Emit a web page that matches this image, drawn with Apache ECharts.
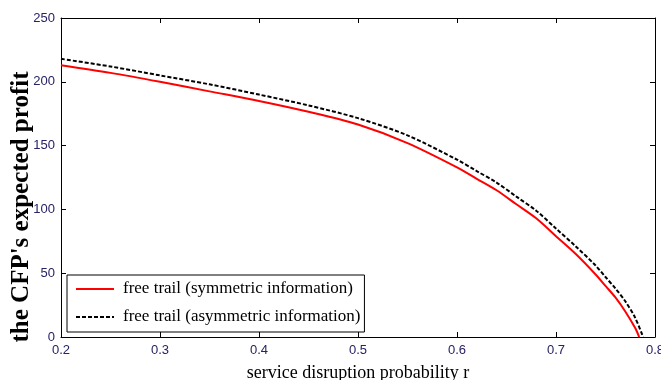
<!DOCTYPE html>
<html>
<head>
<meta charset="utf-8">
<script src="https://cdn.jsdelivr.net/npm/echarts@6/dist/echarts.min.js"></script>
<style>html,body{margin:0;padding:0;background:#fff}#c{width:661px;height:380px}</style>
</head>
<body>
<div id="c"></div>
<script>
var symR = [0.2,0.25,0.3,0.35,0.4,0.45,0.5,0.55,0.6,0.62,0.64,0.66,0.68,0.7,0.72,0.74,0.75,0.76,0.77,0.78,0.784];
var symProfit = [213,207,200,192.5,185,176.5,166.5,152,133,124,115,104,93,79,65,49,40,31,20,7,0];
var asymR = [0.2,0.25,0.3,0.35,0.4,0.45,0.5,0.55,0.6,0.62,0.64,0.66,0.68,0.7,0.72,0.74,0.75,0.76,0.77,0.78,0.788];
var asymProfit = [218,212,205,198,190,181.5,171.5,158,139,130,121,110,99,85,71,56,47,38,28,15,0];
var xTicks = [0.2,0.3,0.4,0.5,0.6,0.7,0.8];
var yTicks = [0,50,100,150,200,250];
var seriesNames = ['free trail (symmetric information)','free trail (asymmetric information)'];
var xName = 'service disruption probability r';
var yName = "the CFP's expected profit";

function pairs(xs, ys){ return xs.map(function(x,i){ return [x, ys[i]]; }); }

var labelColor = '#262266';
var chart = echarts.init(document.getElementById('c'));
var axisCommon = {
  axisLine:{show:true, onZero:false, lineStyle:{color:'#000', width:1}},
  axisTick:{show:true, inside:true, length:5, lineStyle:{color:'#000'}},
  splitLine:{show:false}
};
chart.setOption({
  animation:false,
  backgroundColor:'#fff',
  grid:{left:61, right:6, top:18, bottom:43, containLabel:false, outerBoundsMode:'none'},
  xAxis:[
    Object.assign({type:'value', min:xTicks[0], max:xTicks[xTicks.length-1], interval:0.1, position:'bottom',
      name:xName, nameLocation:'middle', nameGap:27,
      nameTextStyle:{fontFamily:'Liberation Serif', fontSize:18, color:'#000'},
      axisLabel:{color:labelColor, fontFamily:'Liberation Sans', fontSize:13, margin:7,
        formatter:function(v){return v.toFixed(1);}}}, axisCommon),
    Object.assign({type:'value', min:xTicks[0], max:xTicks[xTicks.length-1], interval:0.1, position:'top',
      axisLabel:{show:false}}, axisCommon)
  ],
  yAxis:[
    Object.assign({type:'value', min:yTicks[0], max:yTicks[yTicks.length-1], interval:50, position:'left',
      axisLabel:{color:labelColor, fontFamily:'Liberation Sans', fontSize:13, margin:6}}, axisCommon),
    Object.assign({type:'value', min:yTicks[0], max:yTicks[yTicks.length-1], interval:50, position:'right',
      axisLabel:{show:false}}, axisCommon)
  ],
  legend:{
    show:true,
    orient:'vertical', left:67, top:275,
    backgroundColor:'#fff', borderColor:'#000', borderWidth:1,
    padding:[4,4,5,8], itemGap:8, itemWidth:38, itemHeight:14,
    itemStyle:{opacity:0},
    textStyle:{fontFamily:'Liberation Serif', fontSize:17, lineHeight:20, color:'#000', padding:[0,0,0,4]},
    data:[seriesNames[0], seriesNames[1]]
  },
  graphic:[{
    type:'text', x:22, y:207, rotation:Math.PI/2,
    style:{text:yName, fontFamily:'Liberation Serif', fontWeight:'bold', fontSize:25,
      fill:'#000', textAlign:'center', textVerticalAlign:'middle'}
  }],
  series:[
    {name:seriesNames[0], type:'line', data:pairs(symR, symProfit), showSymbol:false, symbol:'none',
      smooth:0.3, lineStyle:{color:'#ff0000', width:2}, itemStyle:{color:'#ff0000'}},
    {name:seriesNames[1], type:'line', data:pairs(asymR, asymProfit), showSymbol:false, symbol:'none',
      smooth:0.3, lineStyle:{color:'#000', width:2, type:[4,2]}, itemStyle:{color:'#000'}}
  ]
});
</script>
</body>
</html>
